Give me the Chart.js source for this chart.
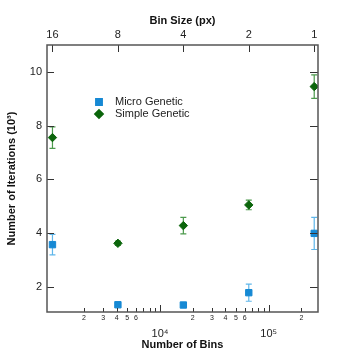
<!DOCTYPE html>
<html>
<head>
<meta charset="utf-8">
<script src="https://cdn.jsdelivr.net/npm/chart.js@4.4.0/dist/chart.umd.min.js"></script>
<style>
  html, body { margin: 0; padding: 0; background: #fff; }
  #wrap { width: 341px; height: 352px; }
</style>
</head>
<body>
<div id="wrap"><canvas id="chart" width="341" height="352"></canvas></div>
<script>
// values
const binCounts = [1024, 4096, 16384, 65536, 262144];
const binSizes = ['16', '8', '4', '2', '1'];
const microMean = [3.56, 1.32, 1.31, 1.77, 3.98];
const microErr = [0.38, 0.03, 0.03, 0.32, 0.6];
const simpleMean = [7.55, 3.61, 4.27, 5.04, 9.45];
const simpleErr = [0.4, 0.08, 0.31, 0.18, 0.44];
const yTicks = [2, 4, 6, 8, 10];
const binTicks = [2000, 3000, 4000, 5000, 6000, 7000, 8000, 9000, 10000,
  20000, 30000, 40000, 50000, 60000, 70000, 80000, 90000, 100000, 200000];
const binTickLabels = ['2', '3', '4', '5', '6', '', '', '', '10\u2074',
  '2', '3', '4', '5', '6', '', '', '', '10\u2075', '2'];

const FONT = "'Liberation Sans', Arial, sans-serif";
const BLUE = '#1689d4';
const BLUE_ERR = '#5fb6ea';
const GREEN = '#0b650b';
const GREEN_ERR = '#4c9a4c';
const AXIS = '#555';

const xMin = 912, xMax = 284000;

const errors = [microErr, simpleErr];
const errColors = [BLUE_ERR, GREEN_ERR];

// error bars, inward ticks, frame and legend
const decor = {
  id: 'decor',
  beforeDatasetsDraw(chart) {
    const { ctx, scales: { x, y } } = chart;
    ctx.save();
    ctx.lineWidth = 1.2;
    chart.data.datasets.forEach((ds, d) => {
      ctx.strokeStyle = errColors[d];
      ds.data.forEach((p, i) => {
        const px = x.getPixelForValue(p.x);
        const t = y.getPixelForValue(p.y + errors[d][i]);
        const b = y.getPixelForValue(p.y - errors[d][i]);
        ctx.beginPath();
        ctx.moveTo(px, t); ctx.lineTo(px, b);
        ctx.moveTo(px - 3, t); ctx.lineTo(px + 3, t);
        ctx.moveTo(px - 3, b); ctx.lineTo(px + 3, b);
        ctx.stroke();
      });
    });
    ctx.restore();
  },
  afterDraw(chart) {
    const { ctx, chartArea: a, scales: { x, y } } = chart;
    ctx.save();
    ctx.strokeStyle = '#333';
    ctx.lineWidth = 1;
    ctx.beginPath();
    yTicks.forEach(v => {
      const py = Math.round(y.getPixelForValue(v)) + 0.5;
      ctx.moveTo(a.left, py); ctx.lineTo(a.left + 7, py);
      ctx.moveTo(a.right - 8, py); ctx.lineTo(a.right, py);
    });
    binCounts.forEach(v => {
      const px = Math.round(x.getPixelForValue(v)) + 0.5;
      ctx.moveTo(px, a.top); ctx.lineTo(px, a.top + 7);
    });
    binTicks.forEach(v => {
      const px = Math.round(x.getPixelForValue(v)) + 0.5;
      const major = v === 10000 || v === 100000;
      ctx.moveTo(px, a.bottom); ctx.lineTo(px, a.bottom - (major ? 7 : 4));
    });
    ctx.stroke();

    ctx.strokeStyle = AXIS;
    ctx.lineWidth = 1.5;
    ctx.strokeRect(a.left, a.top, a.right - a.left, a.bottom - a.top);

    // legend
    const lx = 99, ly = [102, 114];
    chart.data.datasets.forEach((ds, d) => {
      ctx.fillStyle = ds.backgroundColor;
      ctx.strokeStyle = ds.borderColor;
      Chart.helpers.drawPoint(ctx, {
        pointStyle: ds.pointStyle, radius: ds.pointRadius, rotation: 0, borderWidth: 1
      }, lx, ly[d]);
      ctx.fillStyle = '#222';
      ctx.font = '11px ' + FONT;
      ctx.textAlign = 'left';
      ctx.textBaseline = 'middle';
      ctx.fillText(ds.label, 115, ly[d]);
    });
    ctx.restore();
  }
};

new Chart(document.getElementById('chart'), {
  type: 'scatter',
  data: {
    datasets: [
      {
        label: 'Micro Genetic',
        data: binCounts.map((v, i) => ({ x: v, y: microMean[i] })),
        pointStyle: 'rect',
        pointRadius: 4.5,
        backgroundColor: BLUE,
        borderColor: BLUE,
        borderWidth: 1
      },
      {
        label: 'Simple Genetic',
        data: binCounts.map((v, i) => ({ x: v, y: simpleMean[i] })),
        pointStyle: 'rectRot',
        pointRadius: 4.2,
        backgroundColor: GREEN,
        borderColor: GREEN,
        borderWidth: 1
      }
    ]
  },
  options: {
    responsive: false,
    animation: false,
    layout: { padding: { left: 0, right: 23, top: 0, bottom: 0 } },
    plugins: { legend: { display: false }, tooltip: { enabled: false } },
    scales: {
      x: {
        type: 'logarithmic',
        position: 'bottom',
        min: xMin,
        max: xMax,
        afterBuildTicks: s => { s.ticks = binTicks.map(v => ({ value: v })); },
        afterFit: s => { s.height = 40; },
        grid: { display: false, drawTicks: false },
        border: { display: false },
        ticks: {
          autoSkip: false,
          maxRotation: 0,
          padding: 2,
          color: '#222',
          callback: (v, i) => binTickLabels[i].length > 1 ? ['', binTickLabels[i]] : binTickLabels[i],
          font: c => ({ family: FONT, size: binTickLabels[c.index] && binTickLabels[c.index].length > 1 ? 11 : 7 })
        },
        title: {
          display: true,
          text: 'Number of Bins',
          color: '#111',
          font: { family: FONT, size: 11, weight: 'bold' },
          padding: 0
        }
      },
      x2: {
        type: 'logarithmic',
        position: 'top',
        min: xMin,
        max: xMax,
        afterBuildTicks: s => { s.ticks = binCounts.map(v => ({ value: v })); },
        afterFit: s => { s.height = 45; },
        grid: { display: false, drawTicks: false },
        border: { display: false },
        ticks: {
          autoSkip: false,
          maxRotation: 0,
          padding: 3,
          color: '#222',
          callback: (v, i) => binSizes[i],
          font: { family: FONT, size: 11 }
        },
        title: {
          display: true,
          text: 'Bin Size (px)',
          color: '#111',
          font: { family: FONT, size: 11, weight: 'bold' },
          padding: { top: 14, bottom: 0 }
        }
      },
      y: {
        type: 'linear',
        min: 1.05,
        max: 11,
        afterBuildTicks: s => { s.ticks = yTicks.map(v => ({ value: v })); },
        afterFit: s => { s.width = 47; },
        grid: { display: false, drawTicks: false },
        border: { display: false },
        ticks: { padding: 5, color: '#222', font: { family: FONT, size: 11 } },
        title: {
          display: true,
          text: 'Number of Iterations (10\u00b3)',
          color: '#111',
          font: { family: FONT, size: 11, weight: 'bold' },
          padding: { top: 5, bottom: 0 }
        }
      }
    }
  },
  plugins: [decor]
});
</script>
</body>
</html>
